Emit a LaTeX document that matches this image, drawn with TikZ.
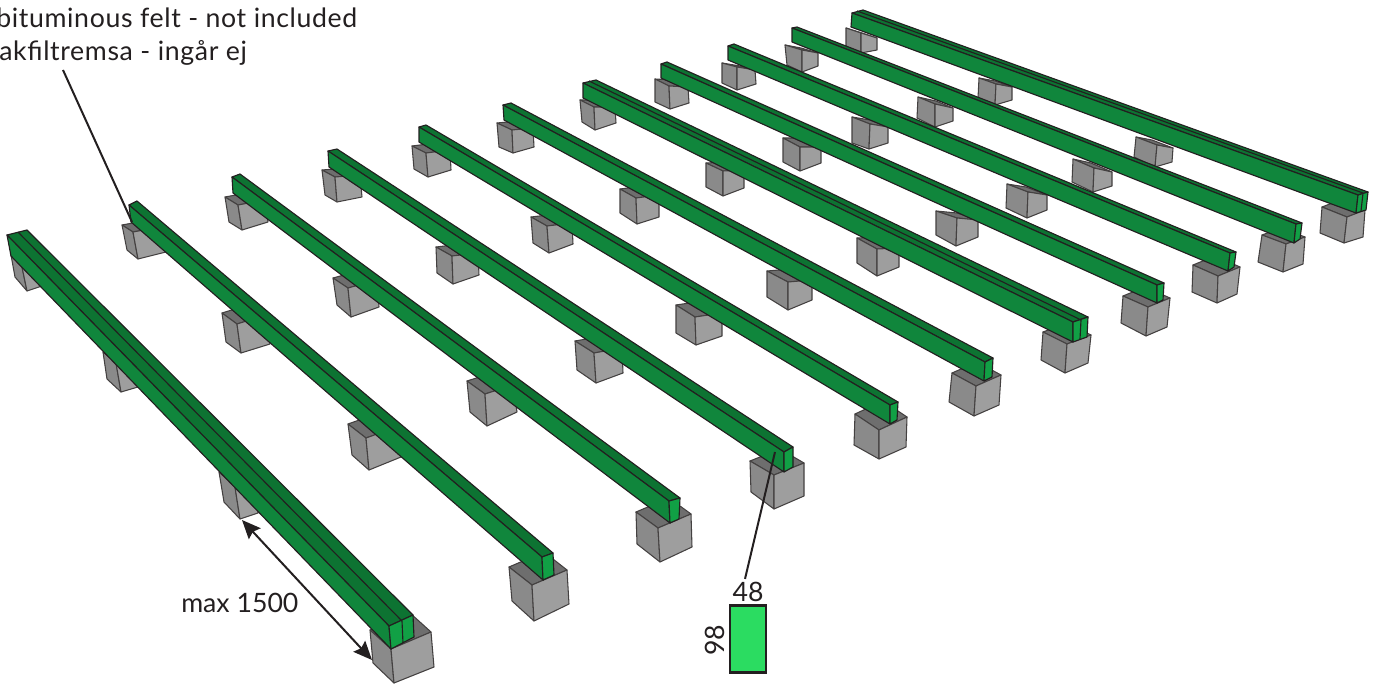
\documentclass[tikz,border=0pt]{standalone}
\usepackage{fontspec}
\setmainfont{Lato}
\newfontfamily\spaced[LetterSpace=2.4]{Lato}
\usetikzlibrary{calc,arrows.meta}
\definecolor{bside}{HTML}{10863C}
\definecolor{btop}{HTML}{0D7332}
\definecolor{bend}{HTML}{11A045}
\definecolor{gtop}{HTML}{6E6E6E}
\definecolor{gleft}{HTML}{8A8A8A}
\definecolor{gright}{HTML}{9E9E9E}
\definecolor{ink}{HTML}{231F20}
\definecolor{secfill}{HTML}{2BDC61}
\tikzset{
  edge/.style={draw=ink,line width=0.85pt,line join=round},
  gedge/.style={draw=ink!85!white,line width=0.8pt,line join=round},
  leader/.style={draw=ink,line width=1.5pt},
  label/.style={text=ink,font=\fontsize{20}{20}\selectfont,inner sep=0pt,anchor=base west},
  longlabel/.style={text=ink,font=\spaced\fontsize{20}{20}\selectfont,inner sep=0pt,anchor=base west},
  size/.style={text=ink,font=\fontsize{20}{20}\selectfont,inner sep=0pt,anchor=base},
  dimarrow/.style={draw=ink,line width=1.5pt,{Stealth[length=14pt,width=12pt,inset=2pt]}-{Stealth[length=14pt,width=12pt,inset=2pt]}}
}
% block: A B C (top left/front/right), then the lower corners A' B' C'
\newcommand{\blk}[6]{%
  \coordinate (pa) at (#1);\coordinate (pb) at (#2);\coordinate (pc) at (#3);
  \coordinate (qa) at (#4);\coordinate (qb) at (#5);\coordinate (qc) at (#6);
  \coordinate (pd) at ($(pa)+(pc)-(pb)$);
  \path[gedge,fill=gtop] (pa)--(pb)--(pc)--(pd)--cycle;
  \path[gedge,fill=gleft] (pa)--(pb)--(qb)--(qa)--cycle;
  \path[gedge,fill=gright] (pb)--(pc)--(qc)--(qb)--cycle;
}
% beam: far top-left, far top-back, far bottom, near tl, tr, br, bl
\newcommand{\beam}[7]{%
  \path[edge,fill=btop] (#1)--(#2)--(#5)--(#4)--cycle;
  \path[edge,fill=bside] (#1)--(#4)--(#7)--(#3)--cycle;
  \path[edge,fill=bend] (#4)--(#5)--(#6)--(#7)--cycle;
}
% the extra seam of a double beam: far top, near top, near bottom
\newcommand{\seam}[3]{%
  \path[edge] (#1)--(#2)--(#3);
}
\begin{document}
\begin{tikzpicture}[x=0.75pt,y=-0.75pt]
\useasboundingbox (0,0) rectangle (1381,684);
% beam 11
\blk{846,28}{861,33}{877,38}{846,47}{861,53}{877,50}
\blk{979,78}{996,84}{1012,87}{978,98}{995,105}{1012,100}
\blk{1136,137}{1157,145}{1173,148}{1134,157}{1155,167}{1172,162}
\blk{1322,207}{1347,217}{1365,210}{1320,233}{1344,243}{1363,237}
\beam{852,13}{863,10}{851,27}{1358,195}{1368,192}{1366,210}{1356,213}
\seam{857,11}{1363,193}{1361,211}
% beam 10
\blk{785,45}{802,50}{818,53}{787,65}{802,72}{818,66}
\blk{918,97}{935,104}{953,108}{917,118}{935,127}{953,121}
\blk{1073,159}{1094,168}{1112,172}{1072,182}{1093,192}{1112,186}
\blk{1262,235}{1286,244}{1305,237}{1258,262}{1283,272}{1303,264}
\beam{792,28}{797,27}{792,42}{1296,224}{1302,223}{1300,239}{1294,243}
% beam 9
\blk{722,63}{737,67}{755,70}{722,83}{737,90}{756,84}
\blk{852,117}{870,124}{888,127}{852,143}{869,149}{888,143}
\blk{1007,184}{1028,192}{1047,195}{1006,208}{1027,218}{1047,210}
\blk{1193,265}{1218,276}{1240,267}{1192,292}{1217,303}{1237,294}
\beam{728,46}{734,44}{728,60}{1230,253}{1236,252}{1234,267}{1228,271}
% beam 8
\blk{655,79}{669,86}{688,87}{655,102}{670,109}{689,103}
\blk{783,138}{800,147}{821,147}{783,162}{800,171}{821,163}
\blk{936,211}{957,218}{978,220}{936,235}{956,246}{978,237}
\blk{1123,296}{1148,307}{1170,298}{1121,323}{1146,336}{1167,327}
\beam{661,64}{667,62}{661,78}{1157,285}{1164,283}{1163,300}{1157,303}
% beam 7
\blk{580,100}{594,107}{615,107}{582,122}{595,130}{616,123}
\blk{706,163}{723,171}{744,170}{706,187}{723,196}{744,188}
\blk{857,238}{877,249}{899,248}{857,263}{877,276}{899,267}
\blk{1043,332}{1067,344}{1091,335}{1041,360}{1065,373}{1088,363}
\beam{583,83}{596,80}{583,98}{1073,322}{1088,317}{1087,337}{1073,342}
\seam{589,81}{1081,320}{1080,339}
% beam 6
\blk{497,123}{512,130}{533,128}{499,147}{513,153}{534,147}
\blk{620,189}{636,198}{659,195}{620,213}{637,224}{659,217}
\blk{767,271}{788,282}{812,280}{767,297}{788,310}{812,300}
\blk{952,373}{976,386}{1001,375}{949,402}{974,416}{999,405}
\beam{503,105}{511,103}{504,120}{985,362}{993,358}{992,377}{984,381}
% beam 5
\blk{412,146}{426,153}{450,150}{414,169}{428,177}{451,170}
\blk{531,217}{547,226}{572,223}{533,243}{549,253}{573,244}
\blk{676,305}{695,317}{722,313}{676,333}{696,345}{722,336}
\blk{855,414}{879,430}{907,417}{854,445}{879,459}{906,447}
\beam{419,127}{426,125}{419,142}{890,405}{898,402}{897,420}{890,424}
% beam 4
\blk{322,170}{335,177}{360,175}{325,195}{337,202}{362,197}
\blk{436,247}{452,256}{478,253}{437,273}{453,284}{479,275}
\blk{575,341}{594,353}{622,348}{577,370}{596,383}{623,373}
\blk{750,461}{774,475}{804,463}{751,492}{774,509}{804,496}
\beam{328,151}{337,149}{329,167}{784,452}{793,447}{793,467}{784,472}
% beam 3
\blk{225,197}{238,205}{265,200}{229,222}{242,230}{268,222}
\blk{333,278}{348,288}{377,280}{337,305}{351,317}{379,307}
\blk{467,381}{485,394}{513,385}{470,412}{487,426}{517,412}
\blk{636,512}{658,528}{691,514}{637,544}{660,562}{692,547}
\beam{232,177}{240,174}{233,193}{669,501}{680,498}{679,519}{670,523}
% beam 2
\blk{122,225}{133,232}{160,227}{127,250}{138,259}{166,252}
\blk{222,313}{237,324}{266,315}{226,342}{241,353}{270,344}
\blk{348,424}{366,438}{397,427}{352,455}{369,470}{401,457}
\blk{509,567}{532,585}{567,570}{512,601}{534,621}{569,604}
\beam{129,205}{137,201}{131,222}{542,557}{553,553}{554,575}{543,580}
% beam 1
\blk{11,255}{22,267}{38,258}{15,277}{27,291}{42,286}
\blk{103,352}{116,363}{135,360}{107,379}{121,392}{138,387}
\blk{219,472}{235,487}{255,480}{224,502}{240,519}{258,513}
\blk{370,630}{391,649}{431,632}{373,663}{394,683}{434,667}
\beam{7,235}{27,230}{11,256}{389,626}{413,615}{414,637}{391,649}
\seam{18,232}{402,621}{403,643}
% notes
\node[longlabel] (felt1) at (-4,28) {bituminous felt - not included};
\node[longlabel] (felt2) at (-1,61) {akfiltremsa - ingår ej};
\coordinate (feltfrom) at (63,70);
\coordinate (feltto) at (132,222);
\draw[leader] (feltfrom) -- (feltto);
\node[label] (maxlab) at (181,612) {max 1500};
\coordinate (dimA) at (242,520);
\coordinate (dimB) at (372,660);
\draw[dimarrow] (dimA) -- (dimB);
% section
\node[draw=ink,line width=2pt,fill=secfill,minimum width=27pt,minimum height=50pt,inner sep=0pt] (sec) at (748,639) {};
\node[size] (w48) at (748,601.5) {48};
\node[size,rotate=90] (h98) at (724.5,640) {98};
\coordinate (secto) at (775,452);
\draw[leader] (w48.north) ++(-3,-3) coordinate (secfrom) -- (secto);
\end{tikzpicture}
\end{document}
